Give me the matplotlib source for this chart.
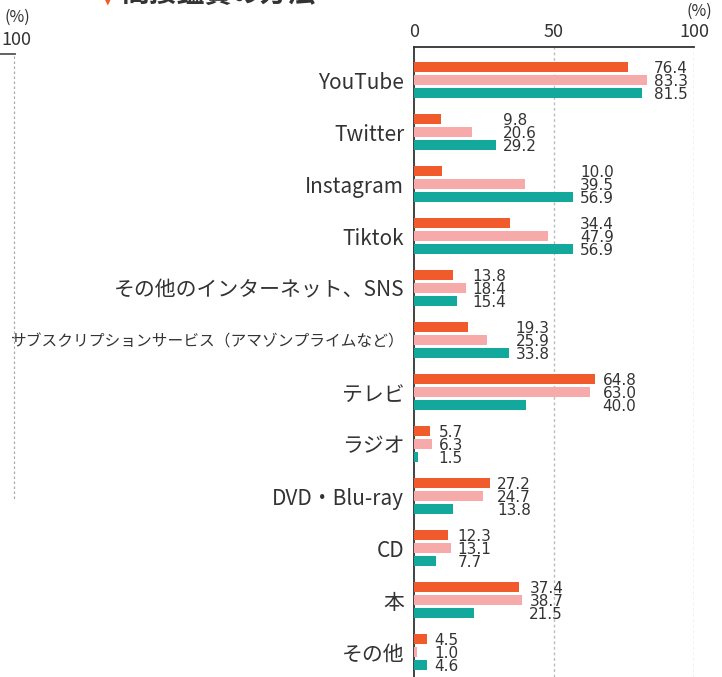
import matplotlib.pyplot as plt
import numpy as np
from matplotlib.lines import Line2D

plt.rcParams['font.family'] = ['Noto Sans CJK JP', 'DejaVu Sans']

categories = ['YouTube', 'Twitter', 'Instagram', 'Tiktok', 'その他のインターネット、SNS',
              'サブスクリプションサービス（アマゾンプライムなど）', 'テレビ', 'ラジオ',
              'DVD・Blu-ray', 'CD', '本', 'その他']
series_a = [76.4, 9.8, 10.0, 34.4, 13.8, 19.3, 64.8, 5.7, 27.2, 12.3, 37.4, 4.5]
series_b = [83.3, 20.6, 39.5, 47.9, 18.4, 25.9, 63.0, 6.3, 24.7, 13.1, 38.7, 1.0]
series_c = [81.5, 29.2, 56.9, 56.9, 15.4, 33.8, 40.0, 1.5, 13.8, 7.7, 21.5, 4.6]
colors = ['#F15A2B', '#F7AAAA', '#13A89C']
text_color = '#333333'

fig = plt.figure(figsize=(7.22, 6.77), dpi=100)
ax = fig.add_axes([0.5734, 0.0, 0.3878, 0.9306])

y = np.arange(len(categories))
h = 0.19
step = 0.25
for k, (vals, c) in enumerate(zip([series_a, series_b, series_c], colors)):
    ax.barh(y + (k - 1) * step, vals, height=h, color=c, zorder=3)

# value labels stacked to the right of each group
for i in range(len(categories)):
    x0 = max(series_a[i], series_b[i], series_c[i]) + 2.5
    for k, vals in enumerate([series_a, series_b, series_c]):
        ax.text(x0, y[i] + (k - 1) * step + 0.02, f'{vals[i]:.1f}', ha='left', va='center',
                fontsize=11, color=text_color, zorder=4, family=['DejaVu Sans'])

ax.set_xlim(0, 100)
ax.set_ylim(11.48, -0.635)
ax.set_xticks([0, 50, 100])
ax.xaxis.tick_top()
ax.tick_params(axis='x', length=0, pad=4, labelsize=13, labelcolor=text_color)
ax.set_yticks(y)
ax.set_yticklabels(categories)
ax.tick_params(axis='y', length=0, pad=7, labelsize=15, labelcolor=text_color)
ax.get_yticklabels()[5].set_fontsize(11.3)
for v in [50, 100]:
    ax.axvline(v, color='#BBBBBB', linestyle=(0, (2, 2)), linewidth=1, zorder=1)
for s in ['right', 'bottom']:
    ax.spines[s].set_visible(False)
ax.spines['top'].set_color('#333333')
ax.spines['left'].set_color('#333333')
ax.spines['top'].set_linewidth(1.3)
ax.spines['left'].set_linewidth(1.3)
ax.text(1.064, 1.056, '(%)', transform=ax.transAxes, ha='right', va='center',
        fontsize=11.5, color=text_color)

# cropped part of neighbouring chart on the left
W, H = 722, 677
fig.text(17 / W, 1 - 17 / H, '(%)', ha='center', va='center', fontsize=11.5, color=text_color)
fig.text(16 / W, 1 - 40 / H, '100', ha='center', va='center', fontsize=13, color=text_color)
fig.add_artist(Line2D([0, 15 / W], [1 - 54 / H, 1 - 54 / H], color='#555555', linewidth=1.3))
fig.add_artist(Line2D([14 / W, 14 / W], [1 - 56 / H, 1 - 500 / H], color='#AAAAAA',
                      linewidth=0.9, linestyle=(0, (2, 2))))

# title, cut off at the top
fig.text(108 / W, 1 - 0 / H, '▼', ha='center', va='center', fontsize=9, color='#F15A2B',
         family=['DejaVu Sans'])
fig.text(122 / W, 1 + 6 / H, '間接鑑賞の方法', ha='left', va='center', fontsize=20,
         fontweight='bold', color=text_color)

fig.savefig('out.png', dpi=100)
